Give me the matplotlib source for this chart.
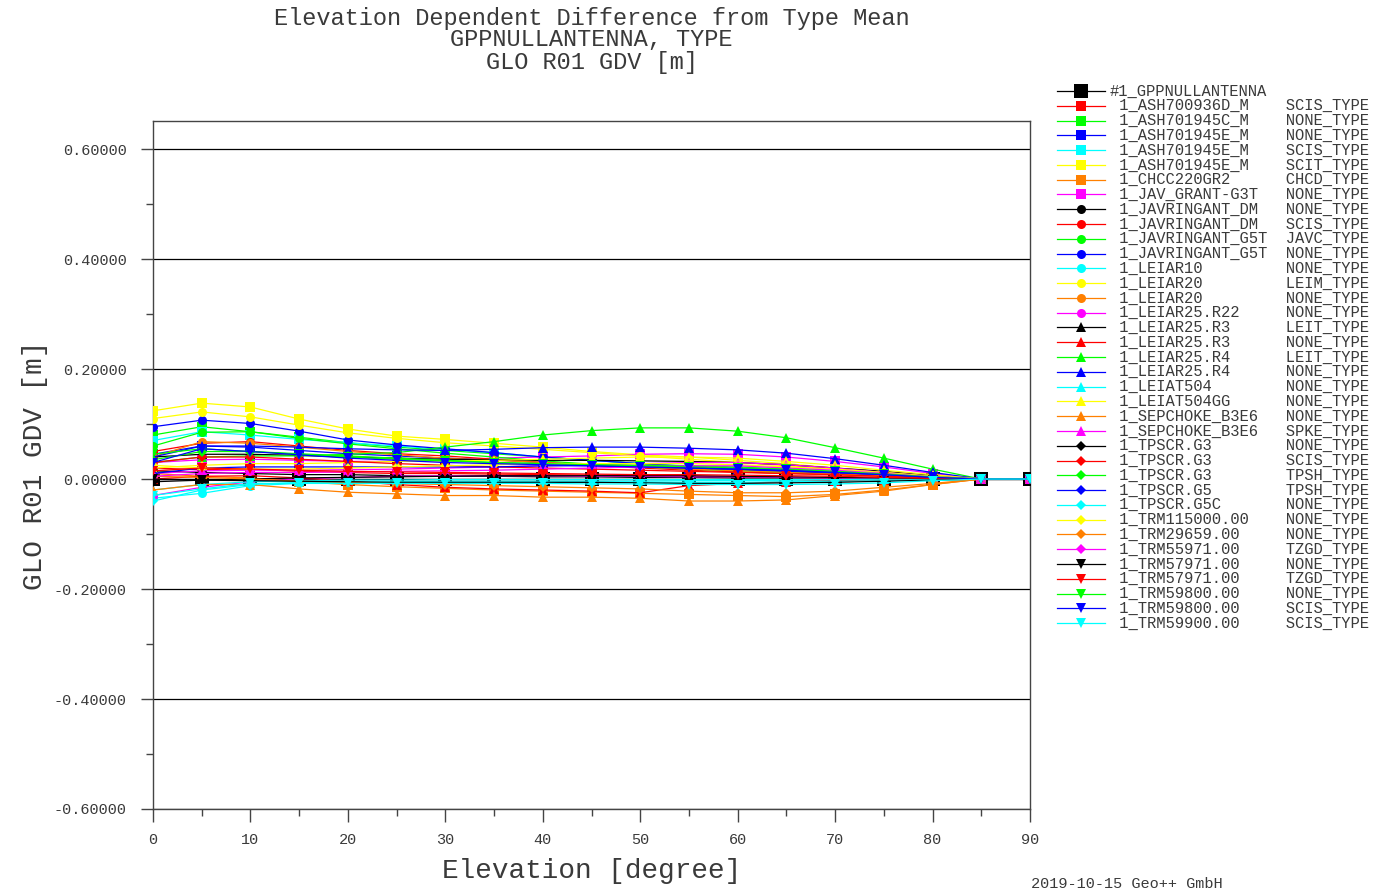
import matplotlib
matplotlib.use("Agg")
import matplotlib.pyplot as plt
import numpy as np

plt.rcParams["font.family"] = ["Liberation Mono", "DejaVu Sans Mono"]

elev = [0, 5, 10, 15, 20, 25, 30, 35, 40, 45, 50, 55, 60, 65, 70, 75, 80, 85, 90]

# antenna names / radome types, in plot order (first one is the reference)
antennas = ["#1_GPPNULLANTENNA",
            "1_ASH700936D_M", "1_ASH701945C_M", "1_ASH701945E_M", "1_ASH701945E_M",
            "1_ASH701945E_M", "1_CHCC220GR2", "1_JAV_GRANT-G3T", "1_JAVRINGANT_DM",
            "1_JAVRINGANT_DM", "1_JAVRINGANT_G5T", "1_JAVRINGANT_G5T", "1_LEIAR10",
            "1_LEIAR20", "1_LEIAR20", "1_LEIAR25.R22", "1_LEIAR25.R3",
            "1_LEIAR25.R3", "1_LEIAR25.R4", "1_LEIAR25.R4", "1_LEIAT504",
            "1_LEIAT504GG", "1_SEPCHOKE_B3E6", "1_SEPCHOKE_B3E6", "1_TPSCR.G3",
            "1_TPSCR.G3", "1_TPSCR.G3", "1_TPSCR.G5", "1_TPSCR.G5C",
            "1_TRM115000.00", "1_TRM29659.00", "1_TRM55971.00", "1_TRM57971.00",
            "1_TRM57971.00", "1_TRM59800.00", "1_TRM59800.00", "1_TRM59900.00"]
radomes = ["",
           "SCIS_TYPE", "NONE_TYPE", "NONE_TYPE", "SCIS_TYPE", "SCIT_TYPE", "CHCD_TYPE",
           "NONE_TYPE", "NONE_TYPE", "SCIS_TYPE", "JAVC_TYPE", "NONE_TYPE", "NONE_TYPE",
           "LEIM_TYPE", "NONE_TYPE", "NONE_TYPE", "LEIT_TYPE", "NONE_TYPE", "LEIT_TYPE",
           "NONE_TYPE", "NONE_TYPE", "NONE_TYPE", "NONE_TYPE", "SPKE_TYPE", "NONE_TYPE",
           "SCIS_TYPE", "TPSH_TYPE", "TPSH_TYPE", "NONE_TYPE", "NONE_TYPE", "NONE_TYPE",
           "TZGD_TYPE", "NONE_TYPE", "TZGD_TYPE", "NONE_TYPE", "SCIS_TYPE", "SCIS_TYPE"]

# GDV [m] per antenna
gdv = [
    [0.000, 0.000, 0.000, 0.000, 0.000, 0.000, 0.000, 0.000, 0.000, 0.000, 0.000, 0.000, 0.000, 0.000, 0.000, 0.000, 0.000, 0.000, 0.000],
    [0.020, 0.017, 0.018, 0.014, 0.012, 0.010, 0.010, 0.009, 0.008, 0.007, 0.006, 0.005, 0.004, 0.003, 0.002, 0.001, 0.000, 0.000, 0.000],
    [0.080, 0.095, 0.086, 0.076, 0.066, 0.058, 0.052, 0.046, 0.040, 0.034, 0.028, 0.022, 0.018, 0.014, 0.010, 0.007, 0.003, 0.000, 0.000],
    [0.045, 0.060, 0.058, 0.052, 0.046, 0.042, 0.038, 0.035, 0.030, 0.026, 0.022, 0.019, 0.016, 0.013, 0.010, 0.007, 0.003, 0.000, 0.000],
    [0.070, 0.086, 0.080, 0.072, 0.066, 0.060, 0.054, 0.048, 0.040, 0.034, 0.028, 0.024, 0.020, 0.015, 0.010, 0.006, 0.003, 0.000, 0.000],
    [0.124, 0.138, 0.131, 0.109, 0.091, 0.078, 0.072, 0.065, 0.058, 0.050, 0.044, 0.040, 0.034, 0.028, 0.020, 0.013, 0.006, 0.000, 0.000],
    [0.010, 0.005, 0.002, -0.005, -0.010, -0.014, -0.017, -0.020, -0.022, -0.024, -0.026, -0.028, -0.030, -0.032, -0.028, -0.020, -0.010, 0.000, 0.000],
    [0.030, 0.035, 0.036, 0.034, 0.032, 0.032, 0.034, 0.038, 0.040, 0.042, 0.045, 0.046, 0.045, 0.040, 0.032, 0.022, 0.010, 0.000, 0.000],
    [0.015, 0.012, 0.010, 0.008, 0.008, 0.006, 0.005, 0.005, 0.004, 0.004, 0.003, 0.003, 0.002, 0.002, 0.002, 0.001, 0.001, 0.000, 0.000],
    [0.050, 0.065, 0.068, 0.060, 0.052, 0.046, 0.042, 0.036, 0.030, 0.025, 0.020, 0.016, 0.013, 0.010, 0.008, 0.005, 0.002, 0.000, 0.000],
    [0.060, 0.085, 0.086, 0.074, 0.064, 0.055, 0.047, 0.040, 0.033, 0.027, 0.022, 0.018, 0.015, 0.012, 0.009, 0.006, 0.003, 0.000, 0.000],
    [0.095, 0.107, 0.101, 0.087, 0.071, 0.062, 0.055, 0.048, 0.040, 0.034, 0.028, 0.023, 0.018, 0.014, 0.010, 0.006, 0.003, 0.000, 0.000],
    [-0.035, -0.026, -0.012, -0.008, -0.006, -0.005, -0.004, -0.004, -0.004, -0.004, -0.004, -0.003, -0.003, -0.002, -0.002, -0.001, 0.000, 0.000, 0.000],
    [0.110, 0.122, 0.113, 0.098, 0.084, 0.074, 0.066, 0.060, 0.054, 0.048, 0.042, 0.036, 0.030, 0.024, 0.018, 0.012, 0.005, 0.000, 0.000],
    [0.040, 0.068, 0.065, 0.058, 0.050, 0.044, 0.038, 0.034, 0.030, 0.026, 0.022, 0.018, 0.015, 0.012, 0.009, 0.006, 0.002, 0.000, 0.000],
    [-0.030, -0.015, -0.005, 0.000, 0.003, 0.005, 0.006, 0.006, 0.006, 0.005, 0.005, 0.004, 0.004, 0.003, 0.002, 0.001, 0.000, 0.000, 0.000],
    [0.040, 0.045, 0.045, 0.043, 0.040, 0.038, 0.036, 0.035, 0.034, 0.034, 0.033, 0.032, 0.030, 0.026, 0.020, 0.014, 0.006, 0.000, 0.000],
    [0.000, 0.005, 0.006, 0.002, -0.004, -0.010, -0.015, -0.018, -0.020, -0.022, -0.025, -0.012, -0.008, -0.005, -0.003, -0.002, -0.001, 0.000, 0.000],
    [0.030, 0.040, 0.042, 0.042, 0.045, 0.048, 0.058, 0.068, 0.080, 0.088, 0.093, 0.093, 0.087, 0.075, 0.057, 0.038, 0.018, 0.000, 0.000],
    [0.040, 0.060, 0.060, 0.058, 0.055, 0.053, 0.052, 0.054, 0.057, 0.058, 0.058, 0.056, 0.053, 0.047, 0.037, 0.025, 0.012, 0.000, 0.000],
    [-0.020, -0.010, -0.005, -0.003, -0.002, -0.002, -0.001, -0.001, -0.001, -0.001, -0.001, -0.001, -0.001, -0.001, -0.001, 0.000, 0.000, 0.000, 0.000],
    [0.020, 0.025, 0.028, 0.028, 0.030, 0.032, 0.033, 0.034, 0.036, 0.038, 0.040, 0.040, 0.038, 0.032, 0.025, 0.016, 0.008, 0.000, 0.000],
    [-0.020, -0.010, -0.010, -0.018, -0.024, -0.027, -0.030, -0.030, -0.033, -0.033, -0.035, -0.040, -0.040, -0.038, -0.030, -0.022, -0.010, 0.000, 0.000],
    [0.010, 0.015, 0.016, 0.016, 0.017, 0.018, 0.020, 0.022, 0.024, 0.026, 0.028, 0.030, 0.030, 0.026, 0.020, 0.012, 0.005, 0.000, 0.000],
    [-0.005, -0.002, 0.000, 0.002, 0.003, 0.004, 0.005, 0.006, 0.006, 0.006, 0.006, 0.006, 0.005, 0.004, 0.003, 0.002, 0.001, 0.000, 0.000],
    [0.030, 0.040, 0.040, 0.036, 0.032, 0.028, 0.025, 0.022, 0.020, 0.018, 0.016, 0.014, 0.012, 0.010, 0.008, 0.005, 0.002, 0.000, 0.000],
    [0.035, 0.050, 0.050, 0.046, 0.042, 0.038, 0.034, 0.030, 0.028, 0.026, 0.025, 0.024, 0.022, 0.018, 0.014, 0.010, 0.004, 0.000, 0.000],
    [0.010, 0.020, 0.022, 0.022, 0.022, 0.022, 0.022, 0.022, 0.024, 0.024, 0.022, 0.020, 0.018, 0.015, 0.012, 0.008, 0.003, 0.000, 0.000],
    [-0.040, -0.020, -0.010, -0.006, -0.006, -0.006, -0.006, -0.006, -0.006, -0.006, -0.006, -0.006, -0.006, -0.005, -0.004, -0.003, -0.001, 0.000, 0.000],
    [0.025, 0.020, 0.018, 0.018, 0.020, 0.022, 0.024, 0.026, 0.028, 0.028, 0.028, 0.028, 0.026, 0.022, 0.018, 0.012, 0.005, 0.000, 0.000],
    [0.005, 0.003, 0.000, -0.004, -0.006, -0.008, -0.010, -0.012, -0.014, -0.016, -0.018, -0.022, -0.025, -0.025, -0.022, -0.015, -0.008, 0.000, 0.000],
    [0.005, 0.010, 0.012, 0.012, 0.013, 0.014, 0.015, 0.016, 0.018, 0.020, 0.022, 0.024, 0.024, 0.020, 0.016, 0.010, 0.004, 0.000, 0.000],
    [0.000, -0.002, -0.003, -0.004, -0.005, -0.006, -0.006, -0.006, -0.006, -0.006, -0.007, -0.008, -0.008, -0.007, -0.006, -0.004, -0.002, 0.000, 0.000],
    [0.015, 0.020, 0.018, 0.016, 0.014, 0.013, 0.012, 0.011, 0.010, 0.009, 0.008, 0.008, 0.007, 0.006, 0.005, 0.003, 0.001, 0.000, 0.000],
    [0.045, 0.055, 0.050, 0.045, 0.040, 0.036, 0.033, 0.030, 0.028, 0.026, 0.024, 0.022, 0.020, 0.018, 0.014, 0.009, 0.004, 0.000, 0.000],
    [0.030, 0.055, 0.050, 0.044, 0.038, 0.034, 0.030, 0.028, 0.026, 0.024, 0.022, 0.020, 0.018, 0.016, 0.012, 0.008, 0.003, 0.000, 0.000],
    [-0.030, -0.018, -0.008, -0.008, -0.008, -0.008, -0.008, -0.008, -0.008, -0.009, -0.009, -0.010, -0.010, -0.010, -0.009, -0.007, -0.003, 0.000, 0.000],
]

COLORS = ["#ff0000", "#00ff00", "#0000ff", "#00ffff", "#ffff00", "#ff8000", "#ff00ff", "#000000"]
MARKERS = ["s", "o", "^", "D", "v"]
MSIZE = {"s": 6.5, "o": 6.5, "^": 6.5, "D": 4.8, "v": 6.5}
TXT = "#3a3a3a"


def style(i):
    if i == 0:
        return "#000000", "s", 10
    m = MARKERS[i // 8]
    return COLORS[(i - 1) % 8], m, MSIZE[m]


W, H = 1373, 894
fig = plt.figure(figsize=(W / 100, H / 100), dpi=100)
ax = fig.add_axes([153 / W, 1 - 809 / H, (1030 - 153) / W, (809 - 121) / H])

for i, vals in enumerate(gdv):
    c, m, ms = style(i)
    ax.plot(elev, vals, color=c, marker=m, markersize=ms, linewidth=0.9,
            markeredgewidth=0, zorder=3)

ax.set_xlim(0, 90)
ax.set_ylim(-0.6, 0.651)
ax.set_xticks(np.arange(0, 91, 10))
ax.set_xticks(np.arange(5, 90, 10), minor=True)
ax.set_yticks([-0.6, -0.4, -0.2, 0.0, 0.2, 0.4, 0.6])
ax.set_yticks([-0.5, -0.3, -0.1, 0.1, 0.3, 0.5], minor=True)
ax.set_yticklabels([f"{v:.5f}" for v in [-0.6, -0.4, -0.2, 0.0, 0.2, 0.4, 0.6]])
ax.yaxis.grid(True, which="major", color="black", linewidth=0.9, zorder=1)
ax.set_axisbelow(True)
ax.tick_params(axis="both", which="major", direction="out", length=9, width=1,
               colors="#444444", labelcolor=TXT, labelsize=11)
ax.tick_params(axis="both", which="minor", direction="out", length=5, width=1, colors="#444444")
ax.tick_params(axis="y", pad=10)
ax.tick_params(axis="x", pad=8)
for s in ax.spines.values():
    s.set_color("#444444")
    s.set_linewidth(1)

ax.set_xlabel("Elevation [degree]", fontsize=20, color=TXT, labelpad=8)
ax.set_ylabel("GLO R01 GDV [m]", fontsize=20, color=TXT, labelpad=4)

fig.text(591.5 / W, 1 - 18 / H, "Elevation Dependent Difference from Type Mean",
         ha="center", va="center", fontsize=17, color=TXT)
fig.text(591.5 / W, 1 - 40 / H, "GPPNULLANTENNA, TYPE", ha="center", va="center",
         fontsize=17, color=TXT)
fig.text(591.5 / W, 1 - 62 / H, "GLO R01 GDV [m]", ha="center", va="center",
         fontsize=17, color=TXT)
fig.text(1031 / W, 1 - 884 / H, "2019-10-15 Geo++ GmbH", ha="left", va="center",
         fontsize=11, color=TXT)

# legend drawn in pixel space to the right of the plot
lg = fig.add_axes([0, 0, 1, 1])
lg.set_xlim(0, W)
lg.set_ylim(H, 0)
lg.axis("off")
row0, dy = 91, 14.78
for i, (name, rad) in enumerate(zip(antennas, radomes)):
    c, m, ms = style(i)
    y = row0 + i * dy
    lg.plot([1057, 1105], [y, y], color=c, linewidth=0.9)
    lg.plot([1081], [y], color=c, marker=m, markersize=ms, markeredgewidth=0)
    label = name if i == 0 else " " + name.ljust(18) + rad
    lg.text(1110, y, label, ha="left", va="center", fontsize=11.2, color=TXT)

fig.savefig("out.png", dpi=100)
